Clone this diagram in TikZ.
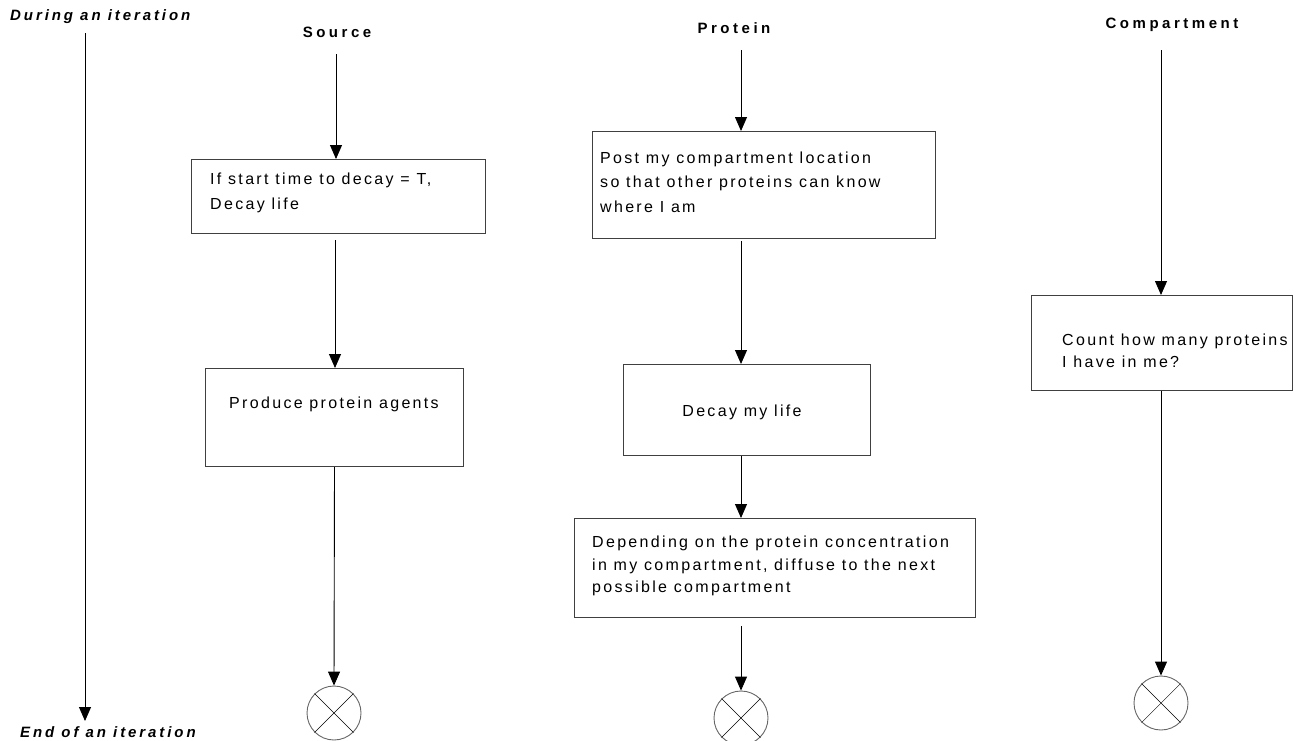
\documentclass[tikz,border=0pt]{standalone}
\usepackage{fontspec}
\setmainfont{Liberation Sans}
\usetikzlibrary{arrows.meta}
\newfontfamily\bodyfont[LetterSpace=14.5]{Liberation Sans}
\newfontfamily\headfont[LetterSpace=23.5]{Liberation Sans}
\newfontfamily\sidefont[LetterSpace=19.5]{Liberation Sans}
\begin{document}
\begin{tikzpicture}[x=1pt,y=-1pt,
  conn/.style={draw=black, line width=0.9pt, -{Triangle[width=12pt,length=14pt]}},
  boxnode/.style={draw=black!75, line width=1pt, anchor=north west, inner sep=0pt},
  txt/.style={font=\bodyfont\fontsize{16}{24}\selectfont, align=left, inner sep=0pt, anchor=west},
  hdr/.style={font=\headfont\bfseries\fontsize{15}{17}\selectfont, inner sep=0pt},
  side/.style={font=\sidefont\bfseries\itshape\fontsize{15}{17}\selectfont, inner sep=0pt, anchor=west},
  endnode/.style={circle, draw=black!60, line width=0.9pt, minimum size=54pt, inner sep=0pt}
]
\useasboundingbox (0,0) rectangle (1313,740);

% side labels and timeline
\node[side] (during) at (10,17) {During an iteration};
\node[side] (endit) at (20,732) {End of an iteration};
\coordinate (tl0) at (85,33);
\coordinate (tl1) at (85,721);
\draw[conn] (tl0) -- (tl1);

% headers
\node[hdr] (hsrc) at (337,32) {Source};
\node[hdr] (hpro) at (734,28) {Protein};
\node[hdr] (hcmp) at (1172,25) {Compartment};
\coordinate (s0) at (336,54);
\coordinate (p0) at (741,50);
\coordinate (c0) at (1161,50);

% Source column
\node[boxnode, minimum width=294pt, minimum height=74pt] (b1) at (191,159) {};
\node[txt, font=\bodyfont\fontsize{16}{25}\selectfont] (t1) at (210,193) {If start time to decay = T,\\Decay life};
\node[boxnode, minimum width=258pt, minimum height=98pt] (b2) at (205,368) {};
\node[txt, anchor=center] (t2) at (334,404) {Produce protein agents};
\node[endnode] (e1) at (334,713) {};
\draw (e1.north west) -- (e1.south east) (e1.north east) -- (e1.south west);
\coordinate (s1) at (335,240);

\draw[conn] (s0) -- (b1.north -| s0);
\draw[conn] (s1) -- (b2.north -| s1);
\draw[conn] (b2.south) -- (e1.north);

% Protein column
\node[boxnode, minimum width=343pt, minimum height=107pt] (b3) at (592,131) {};
\node[txt, font=\bodyfont\fontsize{16}{24.5}\selectfont] (t3) at (600,182) {Post my compartment location\\so that other proteins can know\\where I am};
\node[boxnode, minimum width=247pt, minimum height=91pt] (b4) at (623,364) {};
\node[txt, anchor=center] (t4) at (742,412) {Decay my life};
\node[boxnode, minimum width=401pt, minimum height=99pt] (b5) at (574,518) {};
\node[txt, font=\bodyfont\fontsize{16}{22.5}\selectfont] (t5) at (592,566) {Depending on the protein concentration\\in my compartment, diffuse to the next\\possible compartment};
\node[endnode] (e2) at (741,718) {};
\draw (e2.north west) -- (e2.south east) (e2.north east) -- (e2.south west);

\draw[conn] (p0) -- (b3.north -| p0);
\draw[conn] ([yshift=-2pt]b3.south -| p0) -- (b4.north -| p0);
\draw[conn] (b4.south -| p0) -- (b5.north -| p0);
\draw[conn] ([yshift=-8pt]b5.south -| p0) -- (e2.north);

% Compartment column
\node[boxnode, minimum width=261pt, minimum height=95pt] (b6) at (1031,295) {};
\node[txt, font=\bodyfont\fontsize{16}{22}\selectfont] (t6) at (1062,351) {Count how many proteins\\I have in me?};
\node[endnode] (e3) at (1161,703) {};
\draw (e3.north west) -- (e3.south east) (e3.north east) -- (e3.south west);

\draw[conn] (c0) -- (b6.north -| c0);
\draw[conn] (b6.south -| c0) -- (e3.north);
\end{tikzpicture}
\end{document}
